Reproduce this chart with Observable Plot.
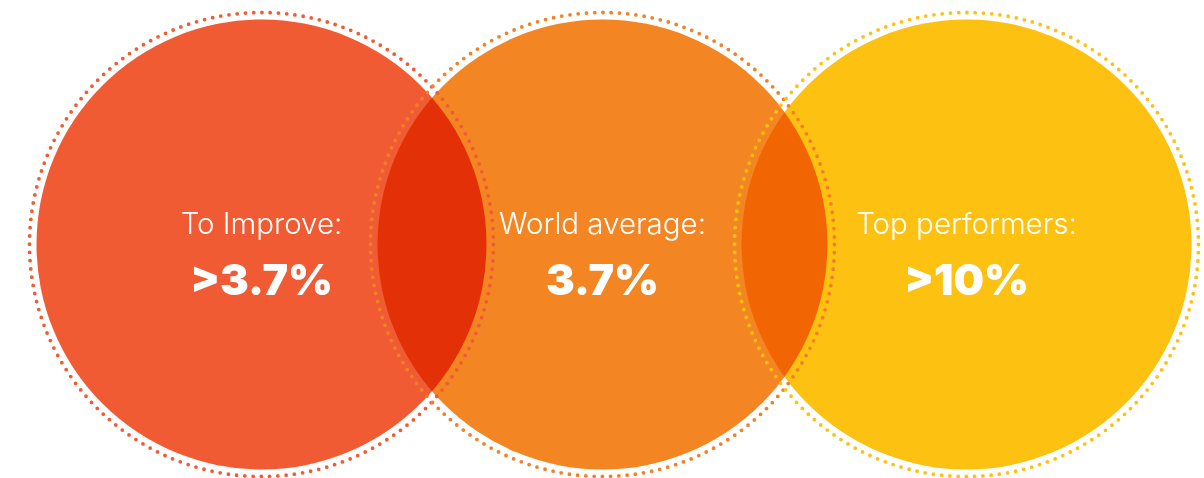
<!DOCTYPE html>
<html>
<head>
<meta charset="utf-8">
<script src="https://cdn.jsdelivr.net/npm/d3@7"></script>
<script src="https://cdn.jsdelivr.net/npm/@observablehq/plot@0.6"></script>
<style>
  html, body { margin: 0; padding: 0; background: #ffffff; }
  #chart svg { display: block; }
</style>
</head>
<body>
<div id="chart"></div>
<script>
// ---- data ----
const categories = ["To Improve", "World average", "Top performers"];
const labels = ["To Improve:", "World average:", "Top performers:"];
const values = [">3.7%", "3.7%", ">10%"];
const fillColors = ["#F05B34", "#F38522", "#FDC111"];
const ringColors = ["#F05B34", "#F38026", "#FDC111"];

// ---- layout (pixel space) ----
const W = 1204, H = 478;
const centerX = {"To Improve": 261, "World average": 602, "Top performers": 966};
const centerY = 244;
const fillR = 225;
const ringR = 232;
const labelY = 233;
const valueY = 294;

const rows = categories.map((c, i) => ({
  category: c, label: labels[i], value: values[i],
  fill: fillColors[i], ring: ringColors[i]
}));

const circ = 2 * Math.PI * ringR;
const nDots = 176;
const gap = circ / nDots;

const chart = Plot.plot({
  width: W,
  height: H,
  margin: 0,
  style: {background: "#ffffff", overflow: "visible"},
  x: {domain: [0, W], range: [0, W], axis: null},
  y: {domain: [0, H], range: [0, H], axis: null},
  marks: [
    Plot.dot(rows, {
      x: d => centerX[d.category], y: () => centerY,
      r: fillR, fill: d => d.fill, stroke: null,
      mixBlendMode: "multiply"
    }),
    Plot.dot(rows, {
      x: d => centerX[d.category], y: () => centerY,
      r: ringR, fill: "none", stroke: d => d.ring,
      strokeWidth: 3.8, strokeLinecap: "round",
      strokeDasharray: `0 ${gap}`
    }),
    Plot.text(rows, {
      x: d => centerX[d.category], y: () => labelY,
      text: "label", fill: "white", fontSize: 29.5,
      fontWeight: 300, textAnchor: "middle", lineAnchor: "bottom",
      fontFamily: "Inter, Lato, sans-serif"
    }),
    Plot.text(rows, {
      x: d => centerX[d.category], y: () => valueY,
      text: "value", fill: "white", fontSize: 43,
      fontWeight: 900, textAnchor: "middle", lineAnchor: "bottom",
      fontFamily: "Inter, Lato, sans-serif",
      letterSpacing: "0.5px"
    })
  ]
});
document.getElementById("chart").appendChild(chart);
</script>
</body>
</html>
